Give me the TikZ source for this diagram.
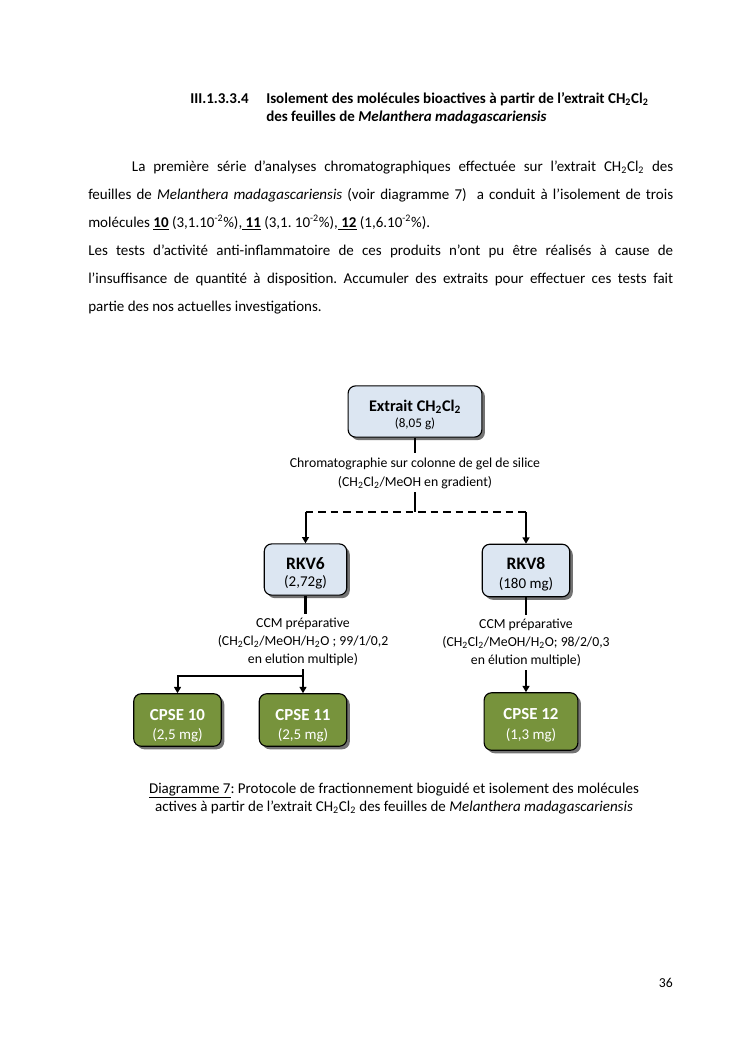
\documentclass[tikz,border=0pt,11pt]{standalone}
\usepackage{fontspec}
\setmainfont{Carlito}
\usetikzlibrary{positioning,arrows.meta,shadows}
\definecolor{boxblue}{RGB}{220,230,242}
\definecolor{cpsegreen}{RGB}{119,147,60}
\frenchspacing

\begin{document}
\begin{tikzpicture}[x=0.8pt,y=-0.8pt,
    fraction/.style={draw, line width=0.9pt, rounded corners=6pt, fill=boxblue, align=center, inner sep=2pt,
        text depth=0pt,
        drop shadow={shadow xshift=2.4pt, shadow yshift=-2.4pt, fill=black, opacity=0.55}},
    product/.style={fraction, fill=cpsegreen, text=white},
    method/.style={align=center, inner sep=3pt, font=\fontsize{11}{14.4}\selectfont},
    link/.style={line width=1.8pt},
    arrow/.style={line width=1.6pt, -{Triangle[length=5pt,width=5.5pt]}},
    body/.style={inner sep=0pt, font=\fontsize{12}{22.4}\selectfont}
]
    \fill[white] (0,0) rectangle (745,1053);
    \useasboundingbox (0,0) rectangle (745,1053);

    % Section heading
    \node[anchor=base west, inner sep=0pt, font=\fontsize{12}{14.4}\selectfont\bfseries] (secnum) at (190,103) {III.1.3.3.4};
    \node[anchor=base west, inner sep=0pt, align=left, font=\fontsize{12}{14.4}\selectfont\bfseries] (sectitle) at (266,121)
        {Isolement des molécules bioactives à partir de l’extrait CH\textsubscript{2}Cl\textsubscript{2}\\des feuilles de \textit{Melanthera madagascariensis}};

    % Body text
    \node[body, anchor=base west, text width=468pt, align=justify] (intro) at (88,171)
        {\hspace*{35pt}La première série d’analyses chromatographiques effectuée sur l’extrait CH\textsubscript{2}Cl\textsubscript{2} des\linebreak
         feuilles de \textit{Melanthera madagascariensis} (voir diagramme 7)~ a conduit à l’isolement de trois\linebreak
         molécules \underline{\textbf{10}} (3,1.10\textsuperscript{-2}\%),\underline{ \textbf{11}} (3,1. 10\textsuperscript{-2}\%),\underline{ \textbf{12}} (1,6.10\textsuperscript{-2}\%).\par
         Les tests d’activité anti-inflammatoire de ces produits n’ont pu être réalisés à cause de\linebreak
         l’insuffisance de quantité à disposition. Accumuler des extraits pour effectuer ces tests fait\linebreak
         partie des nos actuelles investigations.};

    % Diagram
    \node[fraction, minimum width=107pt, minimum height=41pt, text height=24.8pt, font=\fontsize{11}{12.8}\selectfont] (extrait) at (415,411.5)
        {{\fontsize{13}{13}\selectfont\bfseries Extrait CH\textsubscript{2}Cl\textsubscript{2}}\\{\fontsize{10.5}{12}\selectfont (8,05 g)}};
    \node[method, anchor=base, font=\fontsize{11}{15.2}\selectfont] (chromato) at (415,486)
        {Chromatographie sur colonne de gel de silice\\(CH\textsubscript{2}Cl\textsubscript{2}/MeOH en gradient)};
    \coordinate (split) at (415,512);

    \node[fraction, minimum width=66pt, minimum height=41pt, text height=27.2pt, font=\fontsize{11}{14}\selectfont] (rkv6) at (305.5,569.5)
        {{\fontsize{14}{14}\selectfont\bfseries RKV6}\\{\fontsize{12}{14}\selectfont (2,72g)}};
    \node[fraction, minimum width=70pt, minimum height=42pt, text height=28pt, font=\fontsize{11}{15.2}\selectfont] (rkv8) at (526,570.5)
        {{\fontsize{14}{14}\selectfont\bfseries RKV8}\\{\fontsize{12}{14}\selectfont (180 mg)}};

    \node[method, anchor=base] (ccmsix) at (303,663)
        {CCM préparative\\(CH\textsubscript{2}Cl\textsubscript{2}/MeOH/H\textsubscript{2}O ; 99/1/0,2\\en elution multiple)};
    \node[method, anchor=base] (ccmhuit) at (526,664)
        {CCM préparative\\(CH\textsubscript{2}Cl\textsubscript{2}/MeOH/H\textsubscript{2}O; 98/2/0,3\\en élution multiple)};
    \coordinate (branch) at (303,676);

    \node[product, minimum width=70pt, minimum height=42pt, text height=30.4pt, font=\fontsize{11}{15.2}\selectfont] (cpse10) at (177.5,720)
        {{\fontsize{13.5}{14}\selectfont\bfseries CPSE 10}\\{\fontsize{12}{14}\selectfont (2,5 mg)}};
    \node[product, minimum width=70pt, minimum height=42pt, text height=30.4pt, font=\fontsize{11}{15.2}\selectfont] (cpse11) at (303,720)
        {{\fontsize{13.5}{14}\selectfont\bfseries CPSE 11}\\{\fontsize{12}{14}\selectfont (2,5 mg)}};
    \node[product, minimum width=75pt, minimum height=46pt, text height=28pt, font=\fontsize{11}{16}\selectfont] (cpse12) at (531,721.5)
        {{\fontsize{13.5}{14}\selectfont\bfseries CPSE 12}\\{\fontsize{12}{14}\selectfont (1,3 mg)}};

    \draw[link] (extrait.south) -- (extrait.south |- chromato.north);
    \draw[link] (chromato.south) -- (split);
    \draw[link, line width=1.5pt, dash pattern=on 6pt off 4pt] (rkv6.north |- split) -- (rkv8.north |- split);
    \draw[arrow] (rkv6.north |- split) -- (rkv6.north);
    \draw[arrow] (rkv8.north |- split) -- (rkv8.north);
    \draw[link] (rkv6.south) -- (rkv6.south |- ccmsix.north);
    \draw[link] (rkv8.south) -- (ccmhuit.north);
    \draw[arrow] (ccmsix.south) -- (cpse11.north);
    \draw[arrow] (branch) -| (cpse10.north);
    \draw[arrow] (ccmhuit.south) -- (ccmhuit.south |- cpse12.north);

    % Caption and page number
    \node[anchor=base, align=center, inner sep=0pt, font=\fontsize{12}{14.4}\selectfont] (caption) at (394,811)
        {\underline{Diagramme 7}: Protocole de fractionnement bioguidé et isolement des molécules\\actives à partir de l’extrait CH\textsubscript{2}Cl\textsubscript{2} des feuilles de \textit{Melanthera madagascariensis}};
    \node[anchor=base east, inner sep=0pt] (pagenum) at (673,987) {36};
\end{tikzpicture}
\end{document}
